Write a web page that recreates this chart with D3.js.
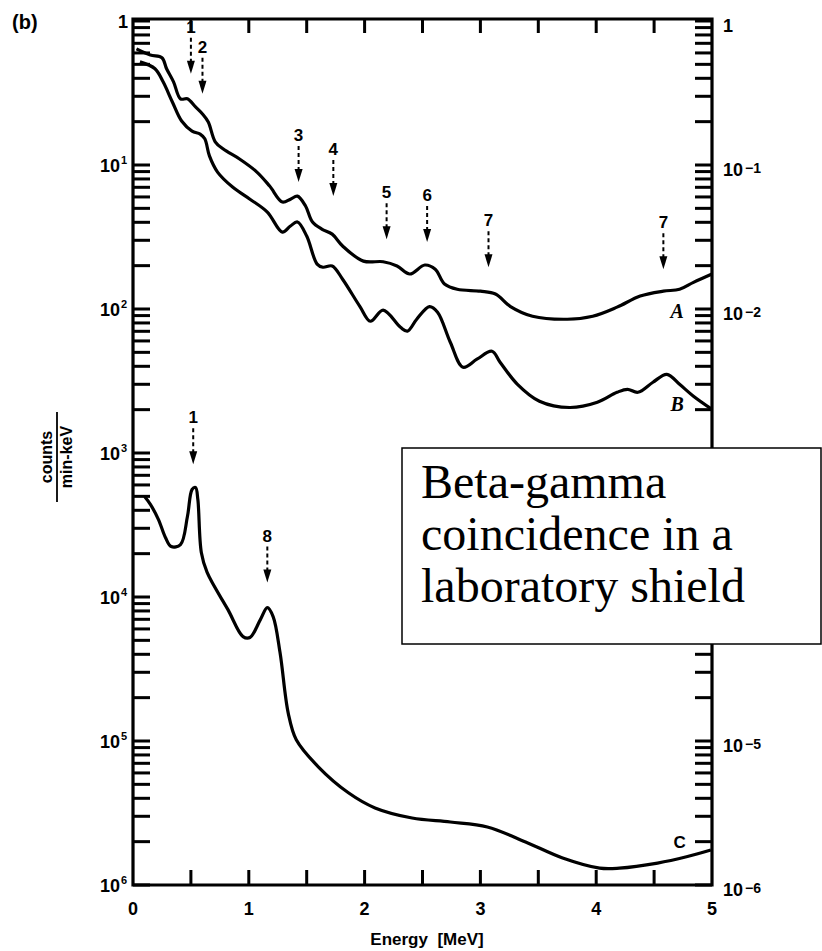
<!DOCTYPE html>
<html><head><meta charset="utf-8">
<script src="https://cdn.jsdelivr.net/npm/d3@7"></script>
<style>body{margin:0;background:#fff} svg{display:block}</style>
</head><body>
<svg id="chart" width="822" height="951"></svg>
<script>
// ---------- data ----------
const energyTicks = [0, 1, 2, 3, 4, 5];
const energyMinor = [0.5, 1, 1.5, 2, 2.5, 3, 3.5, 4, 4.5];
const decades = [1, 1e-1, 1e-2, 1e-3, 1e-4, 1e-5, 1e-6];
const leftSup = ["", "1", "2", "3", "4", "5", "6"];
const rightSup = ["", "\u22121", "\u22122", "\u22123", "\u22124", "\u22125", "\u22126"];

// curve A: [energy MeV, counts/min-keV]
const curveA = [[0.03,0.64],[0.15,0.58],[0.25,0.555],[0.29,0.466],[0.35,0.378],[0.41,0.288],[0.47,0.288],[0.54,0.253],[0.60,0.226],[0.65,0.199],[0.71,0.145],[0.78,0.129],[0.92,0.110],[1.07,0.0893],[1.18,0.0714],[1.29,0.0553],[1.36,0.0579],[1.42,0.0608],[1.49,0.0519],[1.55,0.0402],[1.63,0.0359],[1.72,0.0331],[1.81,0.0274],[1.99,0.0215],[2.16,0.0213],[2.28,0.0199],[2.39,0.0175],[2.52,0.0202],[2.61,0.0189],[2.69,0.0149],[2.80,0.0137],[3.00,0.0133],[3.13,0.0127],[3.26,0.0104],[3.45,0.00891],[3.75,0.00849],[3.97,0.00891],[4.18,0.0103],[4.38,0.0123],[4.58,0.0133],[4.72,0.0137],[4.84,0.0153],[5.0,0.0175]];
// curve B
const curveB = [[0.06,0.52],[0.19,0.466],[0.26,0.378],[0.34,0.274],[0.42,0.202],[0.51,0.172],[0.58,0.164],[0.62,0.152],[0.66,0.1156],[0.73,0.0893],[0.86,0.0703],[1.01,0.0579],[1.16,0.0471],[1.29,0.0342],[1.36,0.0377],[1.42,0.0402],[1.50,0.0321],[1.59,0.0205],[1.64,0.0195],[1.72,0.0199],[1.81,0.0161],[1.96,0.0104],[2.05,0.00822],[2.16,0.00982],[2.31,0.00746],[2.37,0.00702],[2.45,0.00849],[2.56,0.0104],[2.63,0.0095],[2.74,0.00588],[2.85,0.00394],[2.97,0.00448],[3.10,0.00509],[3.17,0.00427],[3.32,0.0030],[3.51,0.00229],[3.77,0.00207],[4.01,0.00225],[4.18,0.00264],[4.27,0.00277],[4.36,0.00264],[4.49,0.0031],[4.61,0.00352],[4.72,0.0030],[4.84,0.00248],[5.0,0.00201]];
// curve C
const curveC = [[0.10,4.99e-4],[0.15,4.40e-4],[0.22,3.45e-4],[0.28,2.59e-4],[0.33,2.24e-4],[0.41,2.31e-4],[0.47,3.62e-4],[0.51,5.58e-4],[0.54,5.77e-4],[0.56,4.75e-4],[0.59,2.04e-4],[0.64,1.48e-4],[0.82,8.17e-5],[0.95,5.31e-5],[1.01,5.23e-5],[1.10,6.97e-5],[1.16,8.43e-5],[1.21,7.31e-5],[1.27,4.10e-5],[1.34,1.57e-5],[1.41,1.02e-5],[1.60,6.62e-6],[1.86,4.37e-6],[2.09,3.43e-6],[2.41,2.92e-6],[2.74,2.74e-6],[3.06,2.53e-6],[3.39,1.99e-6],[3.71,1.54e-6],[4.03,1.31e-6],[4.20,1.31e-6],[4.53,1.42e-6],[4.78,1.57e-6],[4.99,1.75e-6]];

// peak markers: label, energy, arrow-tip value
const markerLabels = ["1", "2", "3", "4", "5", "6", "7", "7", "1", "8"];
const markerEnergy = [0.50, 0.60, 1.43, 1.73, 2.19, 2.54, 3.07, 4.58, 0.52, 1.16];
const markerTip = [0.43, 0.312, 0.0762, 0.0608, 0.0305, 0.0292, 0.0195, 0.0189, 8.34e-4, 1.26e-4];

const curveNames = ["A", "B", "C"];
const curveLabelPos = [[4.70, 0.00966], [4.70, 0.00218], [4.72, 2.02e-6]];

const boxLines = ["Beta-gamma", "coincidence in a", "laboratory shield"];

// ---------- drawing ----------
const svg = d3.select("#chart");
const x = d3.scaleLinear().domain([0, 5]).range([133, 712]);
const y = d3.scaleLog().domain([1e-6, 1]).range([885, 21]);
const sans = "'Liberation Sans', Arial, sans-serif";
const box = {x: 402, y: 448, w: 419, h: 196};

const yTicks = y.ticks(20);
const yTop = y(1) - 2, yBot = y(1e-6);
const xL = x(0), xR = x(5);

// ticks as thin filled rectangles (inward)
const tickG = svg.append("g").attr("fill", "#000");
yTicks.forEach(v => {
  const py = y(v);
  tickG.append("rect").attr("x", xL).attr("y", py - 1.5).attr("width", 17).attr("height", 3).attr("fill", "#000");
  tickG.append("rect").attr("x", xR - 17).attr("y", py - 1.5).attr("width", 17).attr("height", 3).attr("fill", "#000");
});
energyMinor.forEach(e => {
  const px = x(e);
  tickG.append("rect").attr("x", px - 1.5).attr("y", yBot - 15).attr("width", 3).attr("height", 15).attr("fill", "#000");
  tickG.append("rect").attr("x", px - 1.5).attr("y", yTop).attr("width", 3).attr("height", 14).attr("fill", "#000");
});

// frame
svg.append("path")
  .attr("d", `M${xL},${yTop}V${yBot}H${xR}V${yTop}Z`)
  .attr("fill", "none").attr("stroke", "#000").attr("stroke-width", 3.2);

// left decade labels
const ll = svg.append("g").attr("font-family", sans).attr("font-weight", "bold").attr("fill", "#000");
decades.forEach((d, i) => {
  ll.append("text").attr("x", i === 0 ? 128 : 120).attr("y", y(d) + 7)
    .attr("text-anchor", "end").attr("font-size", 18).text(i === 0 ? "1" : "10");
  if (leftSup[i]) {
    ll.append("text").attr("x", 121).attr("y", y(d) - 1).attr("font-size", 11).text(leftSup[i]);
  }
});
// right decade labels (those behind the box are hidden in the reference)
const rl = svg.append("g").attr("font-family", sans).attr("font-weight", "bold").attr("fill", "#000");
decades.forEach((d, i) => {
  if (y(d) > box.y - 10 && y(d) < box.y + box.h) return;
  const t = rl.append("text").attr("x", 723).attr("y", y(d) + 11).attr("font-size", 18);
  t.append("tspan").text(i === 0 ? "1" : "10");
  if (rightSup[i]) t.append("tspan").attr("dx", 2).attr("dy", -3).attr("font-size", 14).text(rightSup[i]);
});
// energy tick labels
svg.append("g").selectAll("text").data(energyTicks).join("text")
  .attr("x", d => x(d)).attr("y", 915).attr("text-anchor", "middle")
  .attr("font-family", sans).attr("font-weight", "bold").attr("font-size", 18).text(d => d);
svg.append("text").attr("x", 427).attr("y", 945).attr("text-anchor", "middle")
  .attr("font-family", sans).attr("font-weight", "bold").attr("font-size", 17)
  .attr("xml:space", "preserve").text("Energy  [MeV]");

// y axis label (fraction)
const yl = svg.append("g").attr("transform", "translate(57,457) rotate(-90)")
  .attr("font-family", sans).attr("font-weight", "bold").attr("font-size", 16);
yl.append("text").attr("x", 0).attr("y", -5).attr("text-anchor", "middle").text("counts");
yl.append("line").attr("x1", -45).attr("x2", 45).attr("y1", 0).attr("y2", 0).attr("stroke", "#000").attr("stroke-width", 1.8);
yl.append("text").attr("x", 0).attr("y", 15).attr("text-anchor", "middle").text("min-keV");

// panel label
svg.append("text").attr("x", 12).attr("y", 29).attr("font-family", sans).attr("font-weight", "bold")
  .attr("font-size", 20).text("(b)");

// curves
const line = d3.line().x(d => x(d[0])).y(d => y(d[1])).curve(d3.curveCatmullRom.alpha(0.5));
[curveA, curveB, curveC].forEach(c => {
  svg.append("path").datum(c).attr("d", line).attr("fill", "none")
    .attr("stroke", "#000").attr("stroke-width", 3.2).attr("stroke-linejoin", "round");
});

// curve labels
curveNames.forEach((n, i) => {
  svg.append("text").attr("x", x(curveLabelPos[i][0])).attr("y", y(curveLabelPos[i][1]) + 7)
    .attr("text-anchor", "middle")
    .attr("font-family", i < 2 ? "'Liberation Serif', serif" : sans)
    .attr("font-style", i < 2 ? "italic" : "normal").attr("font-weight", "bold")
    .attr("font-size", i < 2 ? 20 : 17).text(n);
});

// markers
markerLabels.forEach((lab, i) => {
  const mx = x(markerEnergy[i]), ty = y(markerTip[i]);
  const g = svg.append("g");
  g.append("text").attr("x", mx).attr("y", ty - 41).attr("text-anchor", "middle")
    .attr("font-family", sans).attr("font-weight", "bold").attr("font-size", 17).text(lab);
  g.append("line").attr("x1", mx).attr("x2", mx).attr("y1", ty - 36).attr("y2", ty - 11)
    .attr("stroke", "#000").attr("stroke-width", 2).attr("stroke-dasharray", "4,3");
  g.append("path").attr("d", `M${mx - 4},${ty - 13} L${mx + 4},${ty - 13} L${mx},${ty} Z`).attr("fill", "#000");
});

// annotation box
svg.append("rect").attr("x", box.x).attr("y", box.y).attr("width", box.w).attr("height", box.h)
  .attr("fill", "#fff").attr("stroke", "#000").attr("stroke-width", 1.5);
boxLines.forEach((t, i) => {
  svg.append("text").attr("x", 421).attr("y", 498 + i * 52)
    .attr("font-family", "'Liberation Serif', 'Times New Roman', serif").attr("font-size", 48).text(t);
});
</script>
</body></html>
